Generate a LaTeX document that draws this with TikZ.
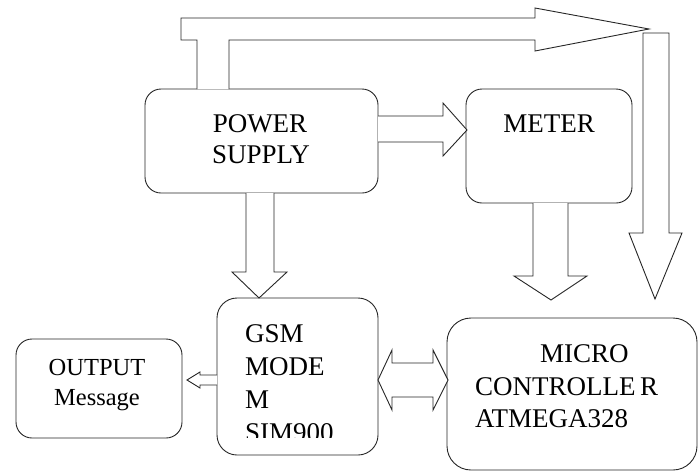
\documentclass[tikz,border=0pt]{standalone}
\usepackage{fontspec}
\setmainfont{Liberation Serif}
\begin{document}
\begin{tikzpicture}[x=1pt,y=-1pt,
  box/.style={draw=black!85, line width=0.9pt, rounded corners=16pt, fill=white, inner sep=0pt, outer sep=0pt},
  blk/.style={draw=black!85, line width=0.9pt, fill=white, line join=miter},
  big/.style={font=\fontsize{27}{33}\selectfont, inner sep=0pt, text=black},
  small/.style={font=\fontsize{24.5}{30}\selectfont, inner sep=0pt, text=black}]
\useasboundingbox (0,0) rectangle (699,472);
% boxes
\node[box, minimum width=233pt, minimum height=104pt] (ps) at (261.5,141) {};
\node[box, minimum width=166pt, minimum height=114pt] (meter) at (549,146) {};
\node[box, minimum width=161pt, minimum height=157pt, rounded corners=20pt] (gsm) at (297.5,376.5) {};
\node[box, minimum width=166pt, minimum height=99pt] (out) at (99,388.5) {};
\node[box, minimum width=250pt, minimum height=152pt, rounded corners=24pt] (mcu) at (572,394) {};
% block arrows
\draw[blk] (197,89) -- (197,40) -- (181,40) -- (181,18) -- (535,18) -- (535,8) -- (649,29) -- (535,51) -- (535,40) -- (229,40) -- (229,89);
\draw[blk] (643,33) -- (643,233) -- (629,233) -- (655,299) -- (682,233) -- (669,233) -- (669,33) -- cycle;
\draw[blk] (378,116) -- (443,116) -- (443,103) -- (467,130) -- (443,156) -- (443,142) -- (378,142);
\draw[blk] (533,203) -- (533,276) -- (514,276) -- (551,300) -- (587,276) -- (568,276) -- (568,203);
\draw[blk] (246,193) -- (246,272) -- (232,272) -- (259,298) -- (287,272) -- (274,272) -- (274,193);
\draw[blk] (217,375) -- (200,375) -- (200,372) -- (187,380) -- (200,388) -- (200,385) -- (217,385);
\draw[blk] (378,380) -- (392,350) -- (392,363) -- (433,363) -- (433,350) -- (448,380) -- (433,410) -- (433,397) -- (392,397) -- (392,410) -- cycle;
% texts
\node[big, anchor=base] (t1) at (260,132) {POWER};
\node[big, anchor=base] (t2) at (261,163) {SUPPLY};
\node[big, anchor=base] (t3) at (549,132) {METER};
\begin{scope}
\clip (217,298) rectangle (378,437);
\node[big, anchor=base west] (t4) at (245,342) {GSM};
\node[big, anchor=base west] (t5) at (245,375) {MODE};
\node[big, anchor=base west] (t6) at (245,408) {M};
\node[big, anchor=base west] (t7) at (245,441) {SIM900};
\end{scope}
\node[small, anchor=base] (t8) at (97,375) {OUTPUT};
\node[small, anchor=base] (t9) at (97,405) {Message};
\node[big, anchor=base west] (t10) at (540,362) {MICRO};
\node[big, anchor=base west] (t11) at (475,395) {CONTROLLE\,R};
\node[big, anchor=base west] (t12) at (475,427) {ATMEGA328};
\end{tikzpicture}
\end{document}
